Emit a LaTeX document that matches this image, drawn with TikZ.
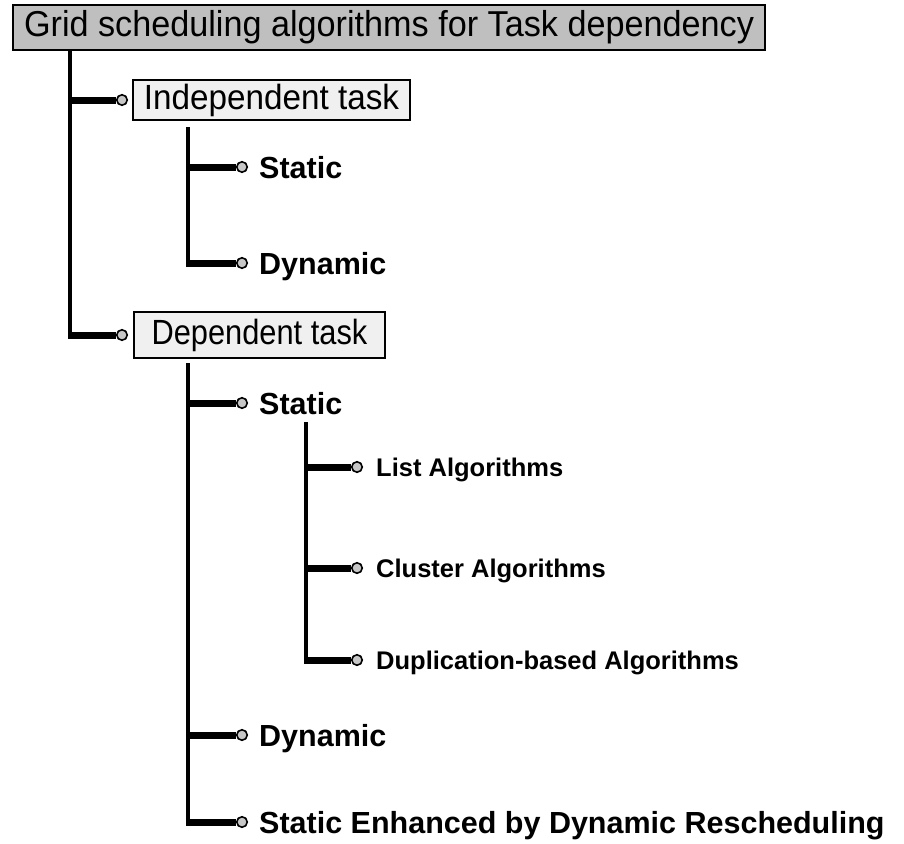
\documentclass[tikz,border=0pt]{standalone}
\usepackage{fontspec}
\setmainfont{Liberation Sans}
\newfontfamily\rootfont[FakeStretch=0.95]{Liberation Sans}
\newfontfamily\indepfont[FakeStretch=0.95]{Liberation Sans}
\newfontfamily\depfont[FakeStretch=0.88]{Liberation Sans}
\usetikzlibrary{calc}
\begin{document}
\begin{tikzpicture}[x=1pt,y=-1pt,
  rootbox/.style={draw, line width=1.6pt, fill=black!25, minimum width=752pt,
    minimum height=45pt, inner sep=0pt, font=\rootfont\fontsize{36}{40}\selectfont},
  taskbox/.style={draw, line width=1.6pt, fill=black!6, inner sep=0pt},
  knob/.style={circle, draw, line width=1.6pt, fill=black!22, minimum size=10.5pt, inner sep=0pt},
  leaf/.style={anchor=base west, inner sep=0pt, font=\bfseries\fontsize{30.5}{36}\selectfont},
  subleaf/.style={anchor=base west, inner sep=0pt, font=\bfseries\fontsize{25.5}{30}\selectfont},
  spine/.style={line width=4.5pt},
  twig/.style={line width=7pt},
]
\useasboundingbox (0,0) rectangle (904,843);

% root
\node[rootbox] (root) at (389,27.5) {Grid scheduling algorithms for Task dependency};

% first level
\node[knob] (k1) at (122,100) {};
\node[taskbox, minimum width=277pt, minimum height=40pt,
      font=\indepfont\fontsize{35}{38}\selectfont] (indep) at (271.5,100) {Independent task};
\node[knob] (k2) at (122,335) {};
\node[taskbox, minimum width=251pt, minimum height=46pt,
      font=\depfont\fontsize{35}{38}\selectfont] (dep) at (259.5,335) {Dependent task};

% second level, independent tasks
\node[knob] (k11) at (242,167) {};
\node[leaf] (t11) at (259,178) {Static};
\node[knob] (k12) at (242,263) {};
\node[leaf] (t12) at (259,274) {Dynamic};

% second level, dependent tasks
\node[knob] (k21) at (242,403) {};
\node[leaf] (t21) at (259,414) {Static};
\node[knob] (k22) at (242,735) {};
\node[leaf] (t22) at (259,746) {Dynamic};
\node[knob] (k23) at (242,822) {};
\node[leaf] (t23) at (259,833) {Static Enhanced by Dynamic Rescheduling};

% third level, static dependent scheduling
\node[knob] (k211) at (357,467) {};
\node[subleaf] (t211) at (376,476) {List Algorithms};
\node[knob] (k212) at (357,568) {};
\node[subleaf] (t212) at (376,577) {Cluster Algorithms};
\node[knob] (k213) at (357,660) {};
\node[subleaf] (t213) at (376,669) {Duplication-based Algorithms};

% spine tops
\coordinate (s0) at (70,50);
\coordinate (s1) at (188,127);
\coordinate (s2) at (188,363);
\coordinate (s3) at (306,422);

% connectors
\draw[spine] (s0) -- ($(s0 |- k2)+(0,3.5)$);
\draw[twig] (s0 |- k1) -- (k1);
\draw[twig] (s0 |- k2) -- (k2);

\draw[spine] (s1) -- ($(s1 |- k12)+(0,3.5)$);
\draw[twig] (s1 |- k11) -- (k11);
\draw[twig] (s1 |- k12) -- (k12);

\draw[spine] (s2) -- ($(s2 |- k23)+(0,3.5)$);
\draw[twig] (s2 |- k21) -- (k21);
\draw[twig] (s2 |- k22) -- (k22);
\draw[twig] (s2 |- k23) -- (k23);

\draw[spine] (s3) -- ($(s3 |- k213)+(0,3.5)$);
\draw[twig] (s3 |- k211) -- (k211);
\draw[twig] (s3 |- k212) -- (k212);
\draw[twig] (s3 |- k213) -- (k213);
\end{tikzpicture}
\end{document}
